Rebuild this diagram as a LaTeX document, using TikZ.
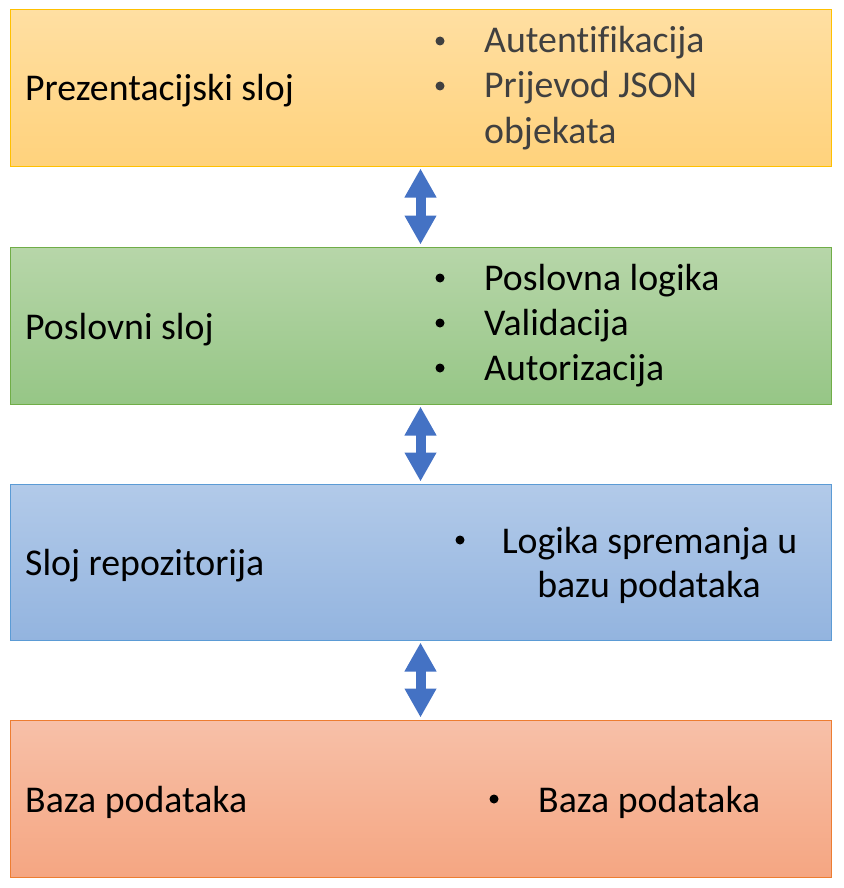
\documentclass[tikz,border=0pt]{standalone}
\usepackage{fontspec}
\setmainfont{Carlito}[Ligatures=CommonOff]
\usetikzlibrary{arrows.meta}

\definecolor{presTop}{HTML}{FFDFA2}
\definecolor{presBot}{HTML}{FFD27C}
\definecolor{presLine}{HTML}{FFC000}
\definecolor{busTop}{HTML}{B7D6A9}
\definecolor{busBot}{HTML}{96C686}
\definecolor{busLine}{HTML}{70AD47}
\definecolor{repoTop}{HTML}{B2CAE9}
\definecolor{repoBot}{HTML}{93B4DF}
\definecolor{repoLine}{HTML}{5B9BD5}
\definecolor{dbTop}{HTML}{F7C0A8}
\definecolor{dbBot}{HTML}{F5A682}
\definecolor{dbLine}{HTML}{ED7D31}
\definecolor{arrowBlue}{HTML}{4472C4}
\definecolor{itemGray}{HTML}{404040}

\begin{document}
\begin{tikzpicture}[x=1pt, y=-1pt,
    layer/.style={draw, line width=1pt, minimum width=821pt, inner sep=0pt},
    label/.style={anchor=base west, inner sep=0pt, font=\fontsize{37.8}{45}\selectfont},
    dot/.style={circle, fill, inner sep=0pt, minimum size=9pt},
    updown/.style={draw=arrowBlue, line width=10pt,
        {Triangle[length=29pt,width=30pt]}-{Triangle[length=29pt,width=30pt]},
        shorten <=2pt, shorten >=2pt}]
    \useasboundingbox (0,0) rectangle (843,888);

    % Layers
    \node[layer, minimum height=156pt, draw=presLine, top color=presTop, bottom color=presBot] (pres) at (420.5,88) {};
    \node[layer, minimum height=157pt, draw=busLine, top color=busTop, bottom color=busBot] (bus) at (420.5,325.5) {};
    \node[layer, minimum height=156pt, draw=repoLine, top color=repoTop, bottom color=repoBot] (repo) at (420.5,562) {};
    \node[layer, minimum height=157pt, draw=dbLine, top color=dbTop, bottom color=dbBot] (db) at (420.5,798.5) {};

    % Layer names
    \node[label] (presName) at (25,101) {Prezentacijski sloj};
    \node[label] (busName) at (25,339) {Poslovni sloj};
    \node[label] (repoName) at (25,575) {Sloj repozitorija};
    \node[label] (dbName) at (25,812) {Baza podataka};

    % Presentation items
    \node[dot, itemGray] (presDotA) at (440,41) {};
    \node[label, itemGray] (presItemA) at (484,53) {Autentifikacija};
    \node[dot, itemGray] (presDotB) at (440,86) {};
    \node[label, itemGray] (presItemB) at (484,98) {Prijevod JSON};
    \node[label, itemGray] (presItemC) at (484,143) {objekata};

    % Business items
    \node[dot] (busDotA) at (440,278) {};
    \node[label] (busItemA) at (484,290) {Poslovna logika};
    \node[dot] (busDotB) at (440,323) {};
    \node[label] (busItemB) at (484,335) {Validacija};
    \node[dot] (busDotC) at (440,368) {};
    \node[label] (busItemC) at (484,380) {Autorizacija};

    % Repository items
    \node[dot] (repoDot) at (460,540) {};
    \node[label, anchor=base] (repoItemA) at (649.5,553) {Logika spremanja u};
    \node[label, anchor=base] (repoItemB) at (649,597) {bazu podataka};

    % Database items
    \node[dot] (dbDot) at (494,799) {};
    \node[label] (dbItem) at (538,812) {Baza podataka};

    % Arrows
    \draw[updown] (pres.south) -- (bus.north);
    \draw[updown] (bus.south) -- (repo.north);
    \draw[updown] (repo.south) -- (db.north);
\end{tikzpicture}
\end{document}
